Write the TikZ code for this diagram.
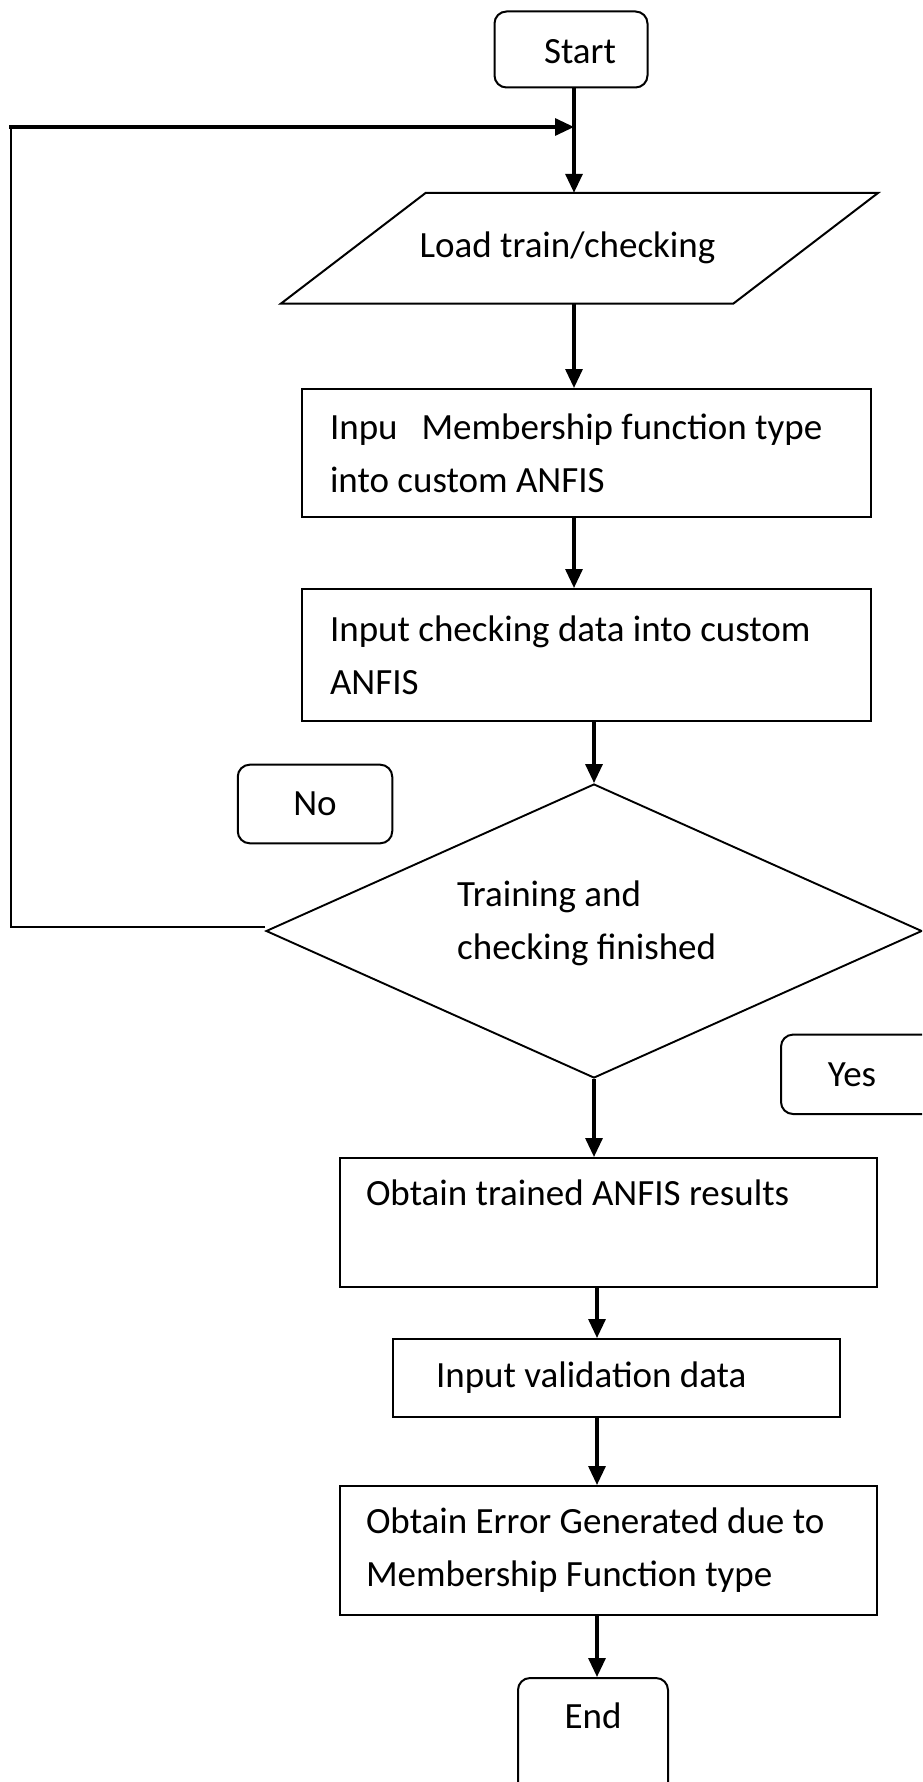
\documentclass[tikz,border=0pt]{standalone}
\usepackage{fontspec}
\setmainfont{Carlito}
\usetikzlibrary{shapes.geometric,arrows.meta}

\tikzset{
  termbox/.style={draw,line width=2pt,rounded corners=12pt,inner sep=0pt,
    minimum width=153pt,minimum height=76pt},
  procbox/.style={draw,line width=2pt,align=flush left,anchor=north west,inner ysep=0pt},
  decisionbox/.style={draw,line width=1.9pt,diamond,inner sep=0pt,
    minimum width=656pt,minimum height=294pt},
  flowarrow/.style={line width=3.2pt,-{Triangle[length=19pt,width=17pt]}},
  loopline/.style={line width=2pt},
}

\begin{document}
\begin{tikzpicture}[x=1pt,y=-1pt,font=\fontsize{37}{53}\selectfont]
\useasboundingbox (0,0) rectangle (922,1782);
\clip (0,0) rectangle (922,1782);
\coordinate (topaxis) at (574,0);
\coordinate (lowaxis) at (597,0);
\coordinate (loopturn) at (11,127);

% terminals
\node[termbox,text height=29pt,text depth=0pt] (start) at (571,49.5) {\hspace*{18pt}Start};
\node[termbox,anchor=north,minimum width=150pt,minimum height=140pt,
  text height=24pt,text depth=64pt] (end) at (593,1677) {End};

% input data
\node[inner sep=0pt,minimum width=597pt,minimum height=110.5pt] (load) at (579.5,248.25) {Load train/checking\hspace*{24pt}};
\draw[line width=2pt] ([xshift=145pt]load.north west) -- (load.north east)
  -- ([xshift=-145pt]load.south east) -- (load.south west) -- cycle;

% process steps
\node[procbox,text width=513pt,inner xsep=28pt,minimum height=128pt] (mftype) at (301,388)
  {Inpu\hspace{24pt}Membership function type\\into custom ANFIS};
\node[procbox,text width=513pt,inner xsep=28pt,minimum height=132pt] (chkdata) at (301,588)
  {Input checking data into custom\\ANFIS};

% decision
\node[decisionbox] (check) at (594,931) {};
\node[align=flush left,anchor=north west,inner sep=0pt] (checktext) at (457,881)
  {Training and\\checking finished};
\node[termbox,minimum width=154.5pt,minimum height=78.6pt] (notag) at (315,804) {No};
\node[termbox,minimum width=154pt,minimum height=79.4pt] (yestag) at (858,1074.3) {Yes\hspace*{12pt}};

% results
\node[procbox,text width=484.5pt,inner xsep=26pt,minimum height=129pt,
  text height=25pt,text depth=60pt] (trained) at (339,1157) {Obtain trained ANFIS results};
\node[procbox,text width=361pt,inner xsep=43pt,minimum height=77.5pt] (valid) at (392,1338)
  {Input validation data};
\node[procbox,text width=484.5pt,inner xsep=26pt,minimum height=129pt] (errgen) at (339,1485)
  {Obtain Error Generated due to\\Membership Function type};

% connectors
\draw[flowarrow] (start.south -| topaxis) -- (load.north -| topaxis);
\draw[flowarrow] (load.south -| topaxis) -- (mftype.north -| topaxis);
\draw[flowarrow] (mftype.south -| topaxis) -- (chkdata.north -| topaxis);
\draw[flowarrow] (check.north |- chkdata.south) -- (check.north);
\draw[flowarrow] (check.south) -- (check.south |- trained.north);
\draw[flowarrow] (trained.south -| lowaxis) -- (valid.north -| lowaxis);
\draw[flowarrow] (valid.south -| lowaxis) -- (errgen.north -| lowaxis);
\draw[flowarrow] (errgen.south -| lowaxis) -- (end.north -| lowaxis);

% loop back on No
\draw[loopline] ([yshift=4pt]check.west) -- ([yshift=4pt]check.west -| loopturn) -- (loopturn);
\draw[flowarrow,line cap=rect] (loopturn) -- (loopturn -| topaxis);
\end{tikzpicture}
\end{document}
